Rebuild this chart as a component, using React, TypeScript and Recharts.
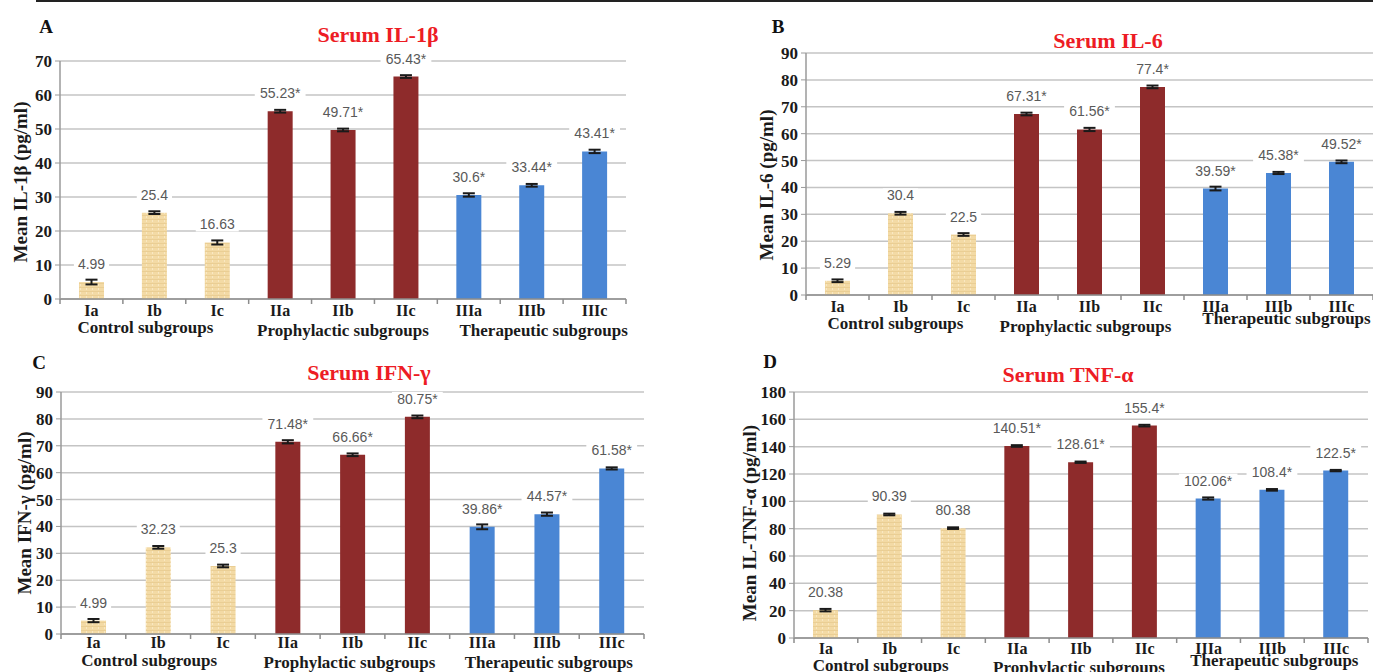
import React from "react";
import {
  BarChart,
  Bar,
  XAxis,
  YAxis,
  CartesianGrid,
  Cell,
  ErrorBar,
  LabelList,
} from "recharts";

const categories = ["Ia", "Ib", "Ic", "IIa", "IIb", "IIc", "IIIa", "IIIb", "IIIc"];
const groups = ["Control subgroups", "Prophylactic subgroups", "Therapeutic subgroups"];
const groupOf = [0, 0, 0, 1, 1, 1, 2, 2, 2];
const marked = [false, false, false, true, true, true, true, true, true];

// panel A
const il1bValues = [4.99, 25.4, 16.63, 55.23, 49.71, 65.43, 30.6, 33.44, 43.41];
const il1bErrors = [0.7, 0.4, 0.6, 0.4, 0.4, 0.4, 0.5, 0.4, 0.5];
const il1bTicks = [0, 10, 20, 30, 40, 50, 60, 70];

// panel B
const il6Values = [5.29, 30.4, 22.5, 67.31, 61.56, 77.4, 39.59, 45.38, 49.52];
const il6Errors = [0.5, 0.5, 0.5, 0.5, 0.6, 0.5, 0.7, 0.4, 0.5];
const il6Ticks = [0, 10, 20, 30, 40, 50, 60, 70, 80, 90];

// panel C
const ifnValues = [4.99, 32.23, 25.3, 71.48, 66.66, 80.75, 39.86, 44.57, 61.58];
const ifnErrors = [0.6, 0.5, 0.5, 0.6, 0.5, 0.5, 0.9, 0.6, 0.4];
const ifnTicks = [0, 10, 20, 30, 40, 50, 60, 70, 80, 90];

// panel D
const tnfValues = [20.38, 90.39, 80.38, 140.51, 128.61, 155.4, 102.06, 108.4, 122.5];
const tnfErrors = [0.9, 0.6, 0.6, 0.6, 0.5, 0.6, 0.8, 0.6, 0.5];
const tnfTicks = [0, 20, 40, 60, 80, 100, 120, 140, 160, 180];

const serif = '"Liberation Serif", "Times New Roman", serif';
const sans = '"Liberation Sans", Arial, sans-serif';

const ValueLabel = (props: any) => {
  const vb = props.viewBox || props;
  const cx = vb.x + vb.width / 2;
  const y = vb.y - 13;
  const text = String(props.value);
  const w = text.length * 7.8;
  return (
    <g>
      <rect x={cx - w / 2 - 2} y={y - 12} width={w + 4} height={14} fill="#fff" />
      <text x={cx} y={y} textAnchor="middle" fontFamily={sans} fontSize={14} fill="#595959">
        {text}
      </text>
    </g>
  );
};

const CatTick = (props: any) => {
  const { x, y, payload, index, half, dy } = props;
  const last = index === categories.length - 1;
  return (
    <g>
      <line x1={x - half} y1={y} x2={x - half} y2={y + 5} stroke="#8c8c8c" strokeWidth={1.5} />
      {last && <line x1={x + half} y1={y} x2={x + half} y2={y + 5} stroke="#8c8c8c" strokeWidth={1.5} />}
      <text
        x={x}
        y={y + dy}
        dy="0.35em"
        textAnchor="middle"
        fontFamily={serif}
        fontWeight={700}
        fontSize={16}
        fill="#1a1a1a"
      >
        {payload.value}
      </text>
    </g>
  );
};

type PanelProps = {
  id: string;
  letter: string;
  title: string;
  yLabel: string;
  values: number[];
  errors: number[];
  ticks: number[];
  chartLeft: number;
  chartTop: number;
  plotLeft: number;
  plotRight: number;
  plotTop: number;
  plotBottom: number;
  tickDy: number;
  groupDx: number[];
  groupDy: number[];
  letterPos: number[];
  titlePos: number[];
  yLabelPos: number[];
};

const Panel = (p: PanelProps) => {
  const data = categories.map((name, i) => ({
    name,
    value: p.values[i],
    err: p.errors[i],
    label: marked[i] ? `${p.values[i]}*` : `${p.values[i]}`,
  }));
  const xAxisH = 40;
  const width = p.plotRight - p.chartLeft + 4;
  const height = p.plotBottom - p.chartTop + xAxisH;
  const band = (p.plotRight - p.plotLeft) / categories.length;
  const colors = [`url(#beige-${p.id})`, "#8e2b2b", "#4a86d4"];
  const textBase: React.CSSProperties = {
    position: "absolute",
    fontFamily: serif,
    fontWeight: 700,
    whiteSpace: "nowrap",
    lineHeight: 1,
    transform: "translate(-50%, -50%)",
  };

  return (
    <>
      <div style={{ ...textBase, left: p.letterPos[0], top: p.letterPos[1], fontSize: 19, color: "#111" }}>
        {p.letter}
      </div>
      <div style={{ ...textBase, left: p.titlePos[0], top: p.titlePos[1], fontSize: 22, color: "#ed1c24" }}>
        {p.title}
      </div>
      <div
        style={{
          ...textBase,
          left: p.yLabelPos[0],
          top: p.yLabelPos[1],
          fontSize: 19,
          color: "#1a1a1a",
          transform: "translate(-50%, -50%) rotate(-90deg)",
        }}
      >
        {p.yLabel}
      </div>
      <div style={{ position: "absolute", left: p.chartLeft, top: p.chartTop }}>
        <BarChart
          width={width}
          height={height}
          data={data}
          margin={{ top: p.plotTop - p.chartTop, right: 4, left: 0, bottom: 0 }}
          barCategoryGap={0}
        >
          <defs>
            <pattern id={`beige-${p.id}`} width={6} height={4} patternUnits="userSpaceOnUse">
              <rect width={6} height={4} fill="#f3daa5" />
              <rect y={3} width={6} height={1} fill="#e8c98d" opacity={0.7} />
              <rect x={2} width={1} height={2} fill="#f9e8c2" />
            </pattern>
          </defs>
          <CartesianGrid vertical={false} stroke="#c4c4c4" strokeWidth={1.5} />
          <XAxis
            dataKey="name"
            height={xAxisH}
            interval={0}
            tickSize={0}
            tickMargin={0}
            tickLine={false}
            axisLine={{ stroke: "#8c8c8c", strokeWidth: 1.5 }}
            tick={(tp: any) => <CatTick {...tp} half={band / 2} dy={p.tickDy} />}
          />
          <YAxis
            width={p.plotLeft - p.chartLeft}
            domain={[0, p.ticks[p.ticks.length - 1]]}
            ticks={p.ticks}
            interval={0}
            tickSize={5}
            tickMargin={3}
            axisLine={{ stroke: "#9a9a9a", strokeWidth: 1.5 }}
            tickLine={{ stroke: "#9a9a9a" }}
            tick={{ fontFamily: serif, fontWeight: 700, fontSize: 17, fill: "#1a1a1a" }}
          />
          <Bar dataKey="value" barSize={25} isAnimationActive={false}>
            {data.map((d, i) => (
              <Cell key={d.name} fill={colors[groupOf[i]]} />
            ))}
            <ErrorBar dataKey="err" width={6} stroke="#1a1a1a" strokeWidth={2} />
            <LabelList dataKey="label" content={ValueLabel} />
          </Bar>
        </BarChart>
      </div>
      {groups.map((g, gi) => (
        <div
          key={g}
          style={{
            ...textBase,
            left: p.plotLeft + band * (gi * 3 + 1.5) + p.groupDx[gi],
            top: p.plotBottom + p.groupDy[gi],
            fontSize: 17,
            color: "#1a1a1a",
          }}
        >
          {g}
        </div>
      ))}
    </>
  );
};

export default function App() {
  return (
    <div
      style={{
        position: "absolute",
        left: 0,
        top: 0,
        width: 1373,
        height: 672,
        overflow: "hidden",
        background: "#fff",
      }}
    >
      <div style={{ position: "absolute", left: 36, top: 0, width: 1337, height: 2, background: "#222" }} />
      <Panel
        id="a"
        letter="A"
        title="Serum IL-1β"
        yLabel="Mean IL-1β (pg/ml)"
        values={il1bValues}
        errors={il1bErrors}
        ticks={il1bTicks}
        chartLeft={0}
        chartTop={40}
        plotLeft={60}
        plotRight={626}
        plotTop={61}
        plotBottom={299}
        tickDy={11}
        groupDx={[-9, 0, 12]}
        groupDy={[28, 31, 31]}
        letterPos={[46, 26]}
        titlePos={[378, 35]}
        yLabelPos={[20, 182]}
      />
      <Panel
        id="b"
        letter="B"
        title="Serum IL-6"
        yLabel="Mean IL-6 (pg/ml)"
        values={il6Values}
        errors={il6Errors}
        ticks={il6Ticks}
        chartLeft={740}
        chartTop={40}
        plotLeft={806}
        plotRight={1373}
        plotTop={53}
        plotBottom={295}
        tickDy={11}
        groupDx={[-5, -4, 8]}
        groupDy={[28, 31, 23]}
        letterPos={[778, 26]}
        titlePos={[1108, 41]}
        yLabelPos={[766, 185]}
      />
      <Panel
        id="c"
        letter="C"
        title="Serum IFN-γ"
        yLabel="Mean IFN-γ (pg/ml)"
        values={ifnValues}
        errors={ifnErrors}
        ticks={ifnTicks}
        chartLeft={0}
        chartTop={375}
        plotLeft={61}
        plotRight={644}
        plotTop={392}
        plotBottom={634}
        tickDy={8}
        groupDx={[-9, -3, 2]}
        groupDy={[26, 28, 28]}
        letterPos={[39, 362]}
        titlePos={[369, 373]}
        yLabelPos={[24, 513]}
      />
      <Panel
        id="d"
        letter="D"
        title="Serum TNF-α"
        yLabel="Mean IL-TNF-α (pg/ml)"
        values={tnfValues}
        errors={tnfErrors}
        ticks={tnfTicks}
        chartLeft={730}
        chartTop={375}
        plotLeft={794}
        plotRight={1368}
        plotTop={392}
        plotBottom={638}
        tickDy={10}
        groupDx={[-9, -2, 2]}
        groupDy={[27, 29, 22]}
        letterPos={[770, 361]}
        titlePos={[1068, 375]}
        yLabelPos={[749, 523]}
      />
    </div>
  );
}
